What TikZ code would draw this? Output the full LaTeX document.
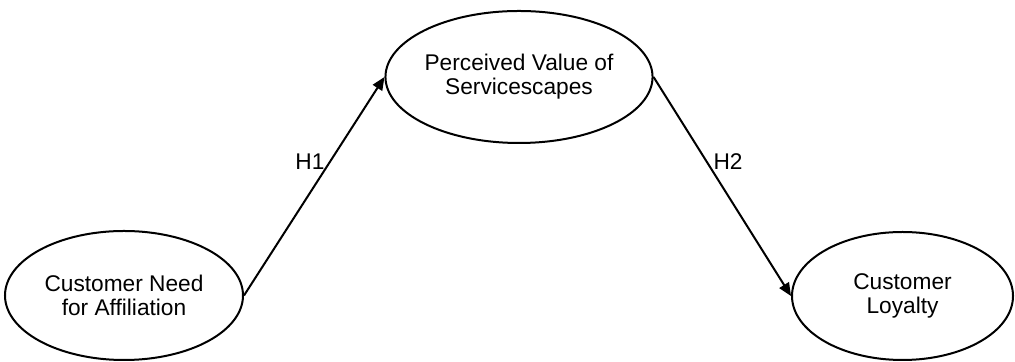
\documentclass[tikz,border=0pt]{standalone}
\usepackage{fontspec}
\setmainfont{Liberation Sans}
\usetikzlibrary{shapes.geometric,arrows.meta}

\begin{document}
\begin{tikzpicture}[x=0.5pt,y=0.5pt,
	construct/.style={ellipse,draw,line width=1pt,inner sep=0pt,align=center,
		font=\fontsize{11.35}{12}\selectfont},
	path/.style={-{Triangle[length=6.5pt,width=5.5pt]},line width=1pt},
	hyp/.style={font=\fontsize{11.35}{12}\selectfont}]

	% Rahmen
	\useasboundingbox (0,0) rectangle (1015,362);

	% Konstrukte
	\node[construct,minimum width=119pt,minimum height=64.5pt] (need) at (124,66.5)
		{Customer Need\\for Affiliation};
	\node[construct,minimum width=116pt,minimum height=66pt] (value) at (519,285)
		{Perceived Value of\\Servicescapes};
	\node[construct,minimum width=110.5pt,minimum height=64pt] (loyal) at (902.5,66)
		{Customer\\Loyalty};

	% Hypothesen
	\draw[path] (need.east) -- (value.west);
	\draw[path] (value.east) -- (loyal.west);

	% Beschriftung
	\node[hyp] (h1) at (310,200) {H1};
	\node[hyp] (h2) at (728,200) {H2};

\end{tikzpicture}
\end{document}
